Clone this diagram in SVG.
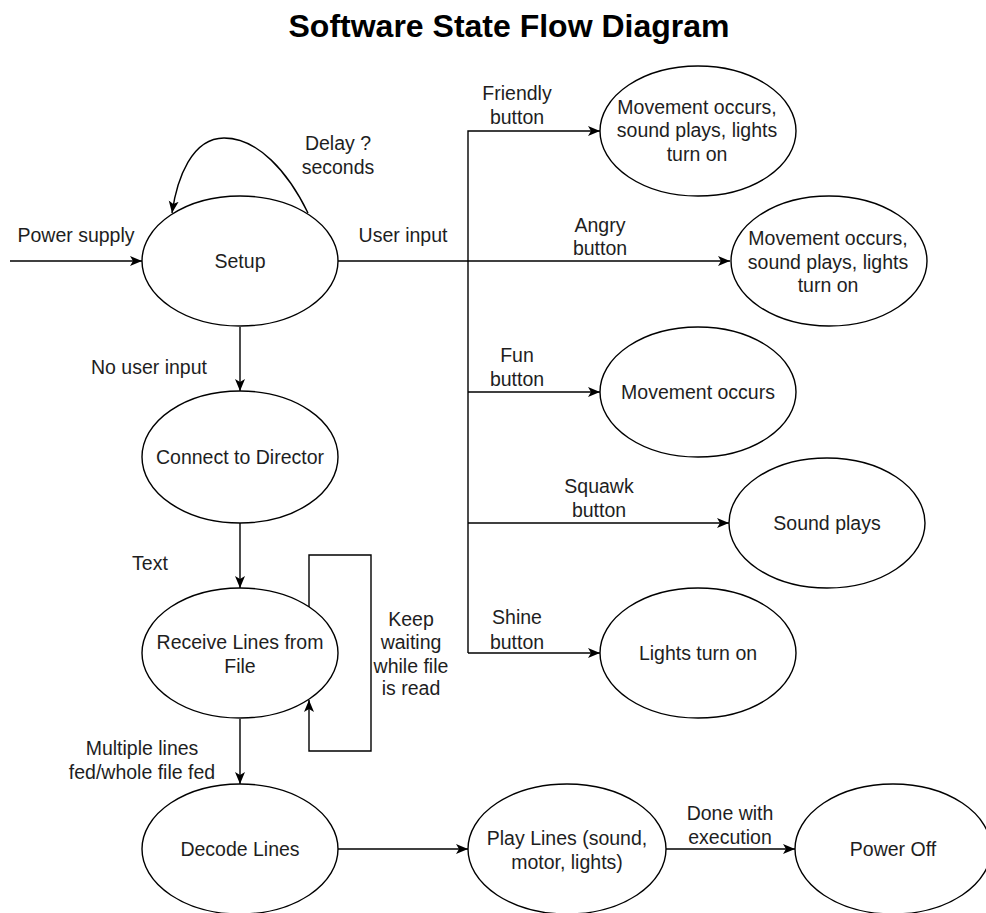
<svg xmlns="http://www.w3.org/2000/svg" width="986" height="913" viewBox="0 0 986 913">
  <style>
    .state { fill: #ffffff; stroke: #000000; stroke-width: 1.4; }
    .edge { fill: none; stroke: #000000; stroke-width: 1.4; }
    text { font-family: "Liberation Sans", Arial, Helvetica, sans-serif; font-size: 19.5px; fill: #1e1e1e; text-anchor: middle; dominant-baseline: central; }
    .title { font-size: 32px; font-weight: bold; fill: #000000; dominant-baseline: alphabetic; }
  </style>
  <defs>
    <marker id="arrow" markerUnits="userSpaceOnUse" markerWidth="13" markerHeight="11" refX="12" refY="5" orient="auto">
      <path d="M0,0 L12,5 L0,10 L3,5 Z" fill="#000000"/>
    </marker>
  </defs>

  <rect width="986" height="913" fill="#ffffff"/>

  <text class="title" x="509" y="37">Software State Flow Diagram</text>

  <!-- Connectors -->
  <g id="connectors">
    <!-- power in -->
    <path class="edge" d="M10,261 H142" marker-end="url(#arrow)"/>
    <!-- delay self-loop on Setup -->
    <path class="edge" d="M308,213 C288,172 258,138 224,138 C192,138 177,178 172,213" marker-end="url(#arrow)"/>
    <!-- user input bus -->
    <path class="edge" d="M338,261 H730" marker-end="url(#arrow)"/>
    <path class="edge" d="M468,653 V131 H600" marker-end="url(#arrow)"/>
    <path class="edge" d="M468,392 H600" marker-end="url(#arrow)"/>
    <path class="edge" d="M468,523 H729" marker-end="url(#arrow)"/>
    <path class="edge" d="M468,653 H600" marker-end="url(#arrow)"/>
    <!-- main sequence -->
    <path class="edge" d="M240,327 V391" marker-end="url(#arrow)"/>
    <path class="edge" d="M240,523 V588" marker-end="url(#arrow)"/>
    <path class="edge" d="M240,719 V784" marker-end="url(#arrow)"/>
    <!-- wait loop on Receive -->
    <path class="edge" d="M309,607 V555 H371 V751 H309 V700" marker-end="url(#arrow)"/>
    <path class="edge" d="M338,849 H468" marker-end="url(#arrow)"/>
    <path class="edge" d="M666,849 H795" marker-end="url(#arrow)"/>

    <!-- edge labels -->
    <text x="76" y="235">Power supply</text>
    <text x="338" y="143">Delay ?</text>
    <text x="338" y="167">seconds</text>
    <text x="403" y="235">User input</text>
    <text x="517" y="93">Friendly</text>
    <text x="517" y="117">button</text>
    <text x="600" y="225">Angry</text>
    <text x="600" y="248">button</text>
    <text x="517" y="355">Fun</text>
    <text x="517" y="379">button</text>
    <text x="599" y="486">Squawk</text>
    <text x="599" y="510">button</text>
    <text x="517" y="617">Shine</text>
    <text x="517" y="642">button</text>
    <text x="149" y="367">No user input</text>
    <text x="150" y="563">Text</text>
    <text x="411" y="619">Keep</text>
    <text x="411" y="642">waiting</text>
    <text x="411" y="666">while file</text>
    <text x="411" y="688">is read</text>
    <text x="142" y="748">Multiple lines</text>
    <text x="142" y="772">fed/whole file fed</text>
    <text x="730" y="813">Done with</text>
    <text x="730" y="837">execution</text>
  </g>

  <!-- States -->
  <g id="setup">
    <ellipse class="state" cx="240" cy="261" rx="98" ry="65"/>
    <text x="240" y="261">Setup</text>
  </g>
  <g id="friendly">
    <ellipse class="state" cx="698" cy="131" rx="98" ry="65"/>
    <text x="697" y="107">Movement occurs,</text>
    <text x="697" y="130">sound plays, lights</text>
    <text x="697" y="154">turn on</text>
  </g>
  <g id="angry">
    <ellipse class="state" cx="829" cy="261" rx="98" ry="65"/>
    <text x="828" y="238">Movement occurs,</text>
    <text x="828" y="262">sound plays, lights</text>
    <text x="828" y="285">turn on</text>
  </g>
  <g id="fun">
    <ellipse class="state" cx="698" cy="392" rx="98" ry="65"/>
    <text x="698" y="392">Movement occurs</text>
  </g>
  <g id="squawk">
    <ellipse class="state" cx="827" cy="523" rx="98" ry="65"/>
    <text x="827" y="523">Sound plays</text>
  </g>
  <g id="shine">
    <ellipse class="state" cx="698" cy="653" rx="98" ry="65"/>
    <text x="698" y="653">Lights turn on</text>
  </g>
  <g id="connect">
    <ellipse class="state" cx="240" cy="457" rx="98" ry="66"/>
    <text x="240" y="457">Connect to Director</text>
  </g>
  <g id="receive">
    <ellipse class="state" cx="240" cy="653" rx="98" ry="65"/>
    <text x="240" y="642">Receive Lines from</text>
    <text x="240" y="666">File</text>
  </g>
  <g id="decode">
    <ellipse class="state" cx="240" cy="849" rx="98" ry="65"/>
    <text x="240" y="849">Decode Lines</text>
  </g>
  <g id="play">
    <ellipse class="state" cx="567" cy="849" rx="99" ry="65"/>
    <text x="567" y="838">Play Lines (sound,</text>
    <text x="567" y="862">motor, lights)</text>
  </g>
  <g id="poweroff">
    <ellipse class="state" cx="893" cy="849" rx="98" ry="65"/>
    <text x="893" y="849">Power Off</text>
  </g>
</svg>
